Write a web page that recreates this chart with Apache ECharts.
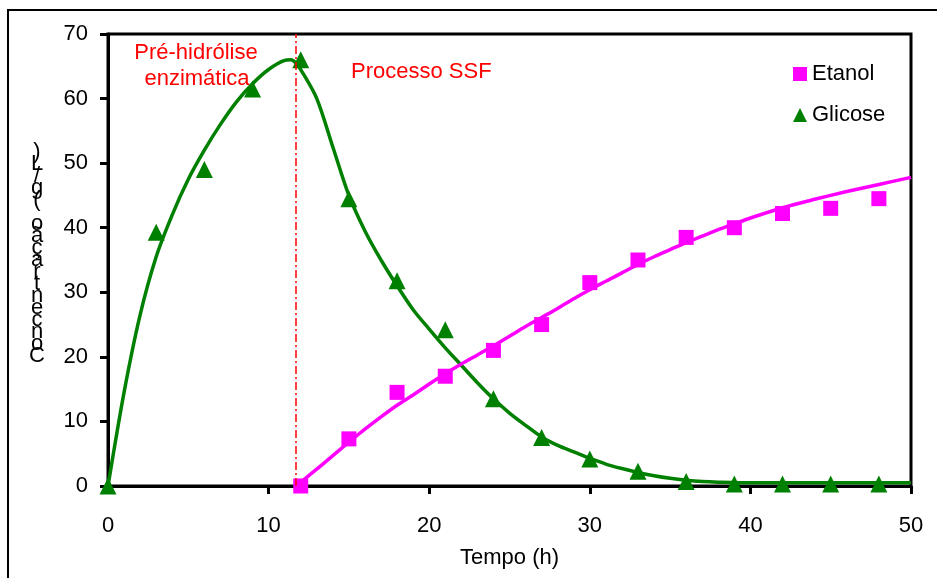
<!DOCTYPE html>
<html>
<head>
<meta charset="utf-8">
<script src="https://cdn.jsdelivr.net/npm/echarts@6/dist/echarts.min.js"></script>
<style>html,body{margin:0;padding:0;background:#fff}#c{width:937px;height:578px}</style>
</head>
<body>
<div id="c"></div>
<script>
// Measured points
const glicoseX = [0, 3, 6, 9, 12, 15, 18, 21, 24, 27, 30, 33, 36, 39, 42, 45, 48];
const glicoseY = [0, 39.3, 49, 61.5, 66, 44.5, 31.8, 24.2, 13.5, 7.5, 4.2, 2.3, 0.7, 0.3, 0.3, 0.3, 0.3];
const etanolX = [12, 15, 18, 21, 24, 27, 30, 33, 36, 39, 42, 45, 48];
const etanolY = [0, 7.3, 14.5, 17, 21, 25, 31.5, 35, 38.5, 40, 42.2, 43, 44.5];
// Model curves
const glicoseCurveX = [0, 1, 2, 3, 4, 5, 6, 7, 8, 9, 10, 11, 11.4, 11.7, 12, 13, 14, 15, 16, 17, 18, 19, 20, 21, 22, 23, 24, 25, 26, 27, 28, 29, 30, 31, 32, 33, 34, 35, 36, 37, 38, 40, 45, 50];
const glicoseCurveY = [0, 14.5, 26.5, 35.5, 42, 47.5, 52, 56, 59.5, 62.3, 64.5, 65.9, 66.0, 65.5, 64.5, 60, 52.5, 45, 39.5, 35, 31, 27.3, 24.3, 21.4, 18.7, 16, 13.5, 11.3, 9.4, 7.6, 6.3, 5.3, 4.3, 3.4, 2.7, 2.1, 1.6, 1.2, 0.9, 0.7, 0.6, 0.5, 0.5, 0.5];
const etanolCurveX = [11.7, 12, 13, 14, 15, 16, 17, 18, 19, 20, 21, 22, 23, 24, 25, 26, 27, 28, 29, 30, 31, 32, 33, 34, 35, 36, 37, 38, 39, 40, 42, 44, 46, 48, 50];
const etanolCurveY = [0, 0.6, 2.6, 4.7, 6.8, 8.8, 10.7, 12.5, 14.1, 15.8, 17.4, 18.9, 20.3, 21.7, 23.2, 24.7, 26.1, 27.5, 29, 30.4, 31.7, 33, 34.3, 35.5, 36.6, 37.7, 38.7, 39.7, 40.6, 41.5, 43.1, 44.4, 45.6, 46.7, 47.8];
const phaseSwitch = 11.7;
const xTicks = {min: 0, max: 50, interval: 10};
const yTicks = {min: 0, max: 70, interval: 10};
const yLabel = 'Concentração (g/L)';

const pair = (xs, ys) => xs.map((x, i) => [x, ys[i]]);
const FONT = 'Liberation Sans, Arial, sans-serif';
const GREEN = '#008000', MAG = '#FF00FF';

const chart = echarts.init(document.getElementById('c'), null, {renderer: 'canvas'});
chart.setOption({
  animation: false,
  backgroundColor: '#fff',
  grid: {left: 108, right: 26, top: 34, bottom: 92, show: true, borderColor: '#000', borderWidth: 3},
  xAxis: {
    type: 'value', min: xTicks.min, max: xTicks.max, interval: xTicks.interval,
    name: 'Tempo (h)', nameLocation: 'middle', nameGap: 61,
    nameTextStyle: {color: '#000', fontSize: 22, fontFamily: FONT},
    axisLine: {lineStyle: {color: '#000', width: 3}},
    axisTick: {inside: false, length: 8, lineStyle: {color: '#000', width: 3}},
    axisLabel: {color: '#000', fontSize: 22, fontFamily: FONT, margin: 29},
    splitLine: {show: false}
  },
  yAxis: {
    type: 'value', min: yTicks.min, max: yTicks.max, interval: yTicks.interval,
    axisLine: {show: true, lineStyle: {color: '#000', width: 3}},
    axisTick: {show: true, inside: false, length: 8, lineStyle: {color: '#000', width: 3}},
    axisLabel: {color: '#000', fontSize: 22, fontFamily: FONT, margin: 20},
    splitLine: {show: false}
  },
  legend: {
    orient: 'vertical', left: 788, top: 58, itemWidth: 14, itemHeight: 14, itemGap: 19,
    textStyle: {color: '#000', fontSize: 22, fontFamily: FONT},
    data: [{name: 'Etanol', icon: 'rect'}, {name: 'Glicose', icon: 'triangle'}]
  },
  series: [
    {
      name: 'GlicoseModelo', type: 'line', data: pair(glicoseCurveX, glicoseCurveY),
      showSymbol: false, smooth: 0.3, lineStyle: {color: GREEN, width: 3.5}, z: 2,
      markLine: {
        silent: true, symbol: 'none', label: {show: false},
        lineStyle: {color: '#FF0000', width: 1.5, type: [8, 3, 2, 3]},
        data: [{xAxis: phaseSwitch}]
      }
    },
    {
      name: 'EtanolModelo', type: 'line', data: pair(etanolCurveX, etanolCurveY),
      showSymbol: false, smooth: 0.3, lineStyle: {color: MAG, width: 3.5}, z: 2
    },
    {
      name: 'Etanol', type: 'scatter', data: pair(etanolX, etanolY),
      symbol: 'rect', symbolSize: 15, itemStyle: {color: MAG, opacity: 1}, z: 3
    },
    {
      name: 'Glicose', type: 'scatter', data: pair(glicoseX, glicoseY),
      symbol: 'triangle', symbolSize: [17, 17], itemStyle: {color: GREEN, opacity: 1}, z: 3
    }
  ],
  graphic: [
    {type: 'rect', shape: {x: 8, y: 10, width: 960, height: 600}, style: {fill: 'none', stroke: '#000', lineWidth: 2}, z: -1, silent: true},
    {type: 'text', style: {text: 'Pré-hidrólise', x: 196, y: 53, align: 'center', verticalAlign: 'middle', fill: '#FF0000', font: '22px ' + FONT}},
    {type: 'text', style: {text: 'enzimática', x: 197, y: 79, align: 'center', verticalAlign: 'middle', fill: '#FF0000', font: '22px ' + FONT}},
    {type: 'text', style: {text: 'Processo SSF', x: 351, y: 72, align: 'left', verticalAlign: 'middle', fill: '#FF0000', font: '22px ' + FONT}},
    {type: 'text', style: {text: Array.from(yLabel).reverse().join('\n'), x: 37, y: 146, align: 'center', verticalAlign: 'top', lineHeight: 12, fill: '#000', font: '22px ' + FONT}}
  ]
});
</script>
</body>
</html>
